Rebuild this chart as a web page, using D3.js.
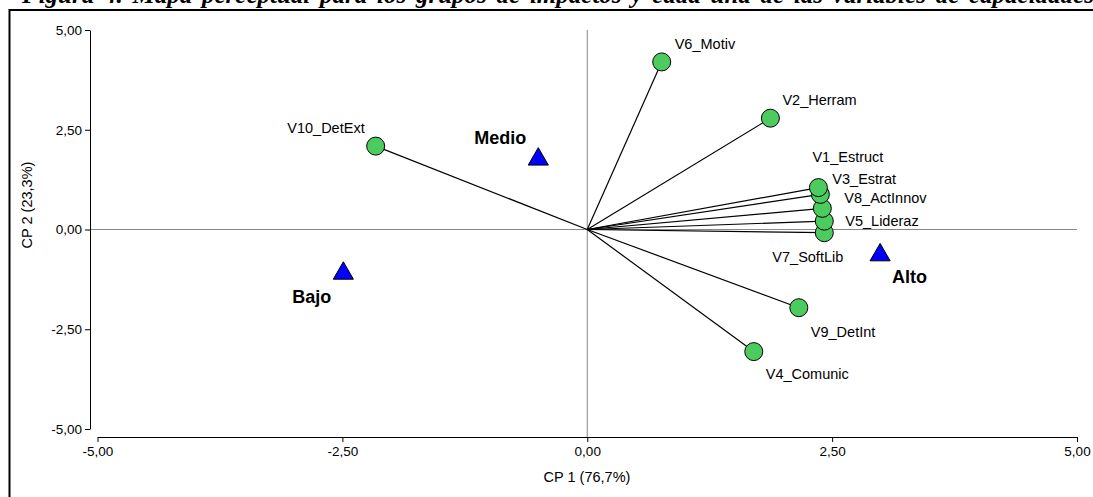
<!DOCTYPE html>
<html><head><meta charset="utf-8">
<script src="https://cdn.jsdelivr.net/npm/d3@7/dist/d3.min.js"></script>
<style>
html,body{margin:0;padding:0;background:#fff;overflow:hidden;}
svg{display:block;}
</style></head>
<body>
<svg id="c" width="1093" height="497"></svg>
<script>
// ---- data ----
const titleText = "Figura 4. Mapa perceptual para los grupos de impactos y cada una de las variables de capacidades";
const xTitle = "CP 1 (76,7%)";
const yTitle = "CP 2 (23,3%)";
const tickValues = [-5, -2.5, 0, 2.5, 5];
const tickLabels = ["-5,00", "-2,50", "0,00", "2,50", "5,00"];

const varNames = ["V1_Estruct","V2_Herram","V3_Estrat","V4_Comunic","V5_Lideraz","V6_Motiv","V7_SoftLib","V8_ActInnov","V9_DetInt","V10_DetExt"];
const varX = [2.36, 1.87, 2.38, 1.70, 2.42, 0.76, 2.42, 2.40, 2.16, -2.16];
const varY = [1.05, 2.79, 0.88, -3.06, 0.21, 4.20, -0.08, 0.53, -1.96, 2.09];

const groupNames = ["Bajo", "Medio", "Alto"];
const groupX = [-2.49, -0.50, 2.99];
const groupY = [-1.10, 1.76, -0.64];

// ---- layout (label placement, px) ----
const varLabelPos = {
  V1_Estruct: {dx: -6, dy: -31, a: "start"},
  V2_Herram: {dx: 12, dy: -18, a: "start"},
  V3_Estrat: {dx: 12, dy: -15, a: "start"},
  V4_Comunic: {dx: 12, dy: 22, a: "start"},
  V5_Lideraz: {dx: 21, dy: 0, a: "start"},
  V6_Motiv: {dx: 13, dy: -18, a: "start"},
  V7_SoftLib: {dx: 19, dy: 24, a: "end"},
  V8_ActInnov: {dx: 22, dy: -10, a: "start"},
  V9_DetInt: {dx: 12, dy: 24, a: "start"},
  V10_DetExt: {dx: -11, dy: -18, a: "end"}
};
const groupLabelPos = {
  Bajo: {dx: -12, dy: 23, a: "end"},
  Medio: {dx: -12, dy: -22, a: "end"},
  Alto: {dx: 12, dy: 22, a: "start"}
};

const svg = d3.select("#c");
const FONT = "'Liberation Sans', Arial, sans-serif";

// title (clipped at top, as in the reference)
svg.append("text")
  .attr("x", 22).attr("y", 3)
  .attr("font-family", "'Liberation Serif', 'Times New Roman', serif")
  .attr("font-weight", "bold").attr("font-style", "italic")
  .attr("font-size", 25)
  .attr("word-spacing", 3.5)
  .attr("fill", "#000")
  .text(titleText);

// frame
svg.append("rect").attr("x", 9.5).attr("y", 10).attr("width", 1200).attr("height", 600)
  .attr("fill", "none").attr("stroke", "#000").attr("stroke-width", 2);

const x = d3.scaleLinear().domain([-5, 5]).range([97.5, 1077]);
const y = d3.scaleLinear().domain([-5, 5]).range([429, 30]);

// reference lines
svg.append("line").attr("x1", 90).attr("x2", x(5)).attr("y1", y(0)).attr("y2", y(0))
  .attr("stroke", "#888").attr("stroke-width", 1);
svg.append("line").attr("x1", x(0)).attr("x2", x(0)).attr("y1", y(5)).attr("y2", 437)
  .attr("stroke", "#888").attr("stroke-width", 1);

// axes
const yAxis = d3.axisLeft(y).tickValues(tickValues).tickFormat((d, i) => tickLabels[i])
  .tickSizeInner(5).tickSizeOuter(0).tickPadding(3);
const gy = svg.append("g").attr("transform", "translate(90,0)").call(yAxis);
const xAxis = d3.axisBottom(x).tickValues(tickValues).tickFormat((d, i) => tickLabels[i])
  .tickSizeInner(5).tickSizeOuter(0).tickPadding(4);
const gx = svg.append("g").attr("transform", "translate(0,437)").call(xAxis);
[gx, gy].forEach(g => {
  g.selectAll("text").attr("font-family", FONT).attr("font-size", 13.5).attr("fill", "#000");
  g.selectAll("path,line").attr("stroke", "#000").attr("stroke-width", 1);
});

// axis titles
svg.append("text").attr("x", 587).attr("y", 482).attr("text-anchor", "middle")
  .attr("font-family", FONT).attr("font-size", 14.5).attr("fill", "#000").text(xTitle);
svg.append("text").attr("transform", "translate(32,205) rotate(-90)").attr("text-anchor", "middle")
  .attr("font-family", FONT).attr("font-size", 14.5).attr("fill", "#000").text(yTitle);

// vectors
const vars = varNames.map((n, i) => ({name: n, x: varX[i], y: varY[i]}));
svg.append("g").selectAll("line").data(vars).join("line")
  .attr("x1", x(0)).attr("y1", y(0))
  .attr("x2", d => x(d.x)).attr("y2", d => y(d.y))
  .attr("stroke", "#000").attr("stroke-width", 1.2);

// points (draw from bottom to top so upper circles overlap like reference)
const sorted = vars.slice().sort((a, b) => a.y - b.y);
svg.append("g").selectAll("circle").data(sorted).join("circle")
  .attr("cx", d => x(d.x)).attr("cy", d => y(d.y)).attr("r", 9)
  .attr("fill", "#4ccb5e").attr("stroke", "#000").attr("stroke-width", 1);

svg.append("g").selectAll("text").data(vars).join("text")
  .attr("x", d => x(d.x) + varLabelPos[d.name].dx)
  .attr("y", d => y(d.y) + varLabelPos[d.name].dy)
  .attr("dy", "0.35em")
  .attr("text-anchor", d => varLabelPos[d.name].a)
  .attr("font-family", FONT).attr("font-size", 14.5).attr("fill", "#000")
  .text(d => d.name);

// groups
const groups = groupNames.map((n, i) => ({name: n, x: groupX[i], y: groupY[i]}));
const tri = d3.symbol(d3.symbolTriangle, 175);
svg.append("g").selectAll("path").data(groups).join("path")
  .attr("transform", d => `translate(${x(d.x)},${y(d.y)})`)
  .attr("d", tri)
  .attr("fill", "#0000ff").attr("stroke", "#000").attr("stroke-width", 1);
svg.append("g").selectAll("text").data(groups).join("text")
  .attr("x", d => x(d.x) + groupLabelPos[d.name].dx)
  .attr("y", d => y(d.y) + groupLabelPos[d.name].dy)
  .attr("dy", "0.35em")
  .attr("text-anchor", d => groupLabelPos[d.name].a)
  .attr("font-family", FONT).attr("font-weight", "bold").attr("font-size", 18).attr("fill", "#000")
  .text(d => d.name);
</script>
</body></html>
